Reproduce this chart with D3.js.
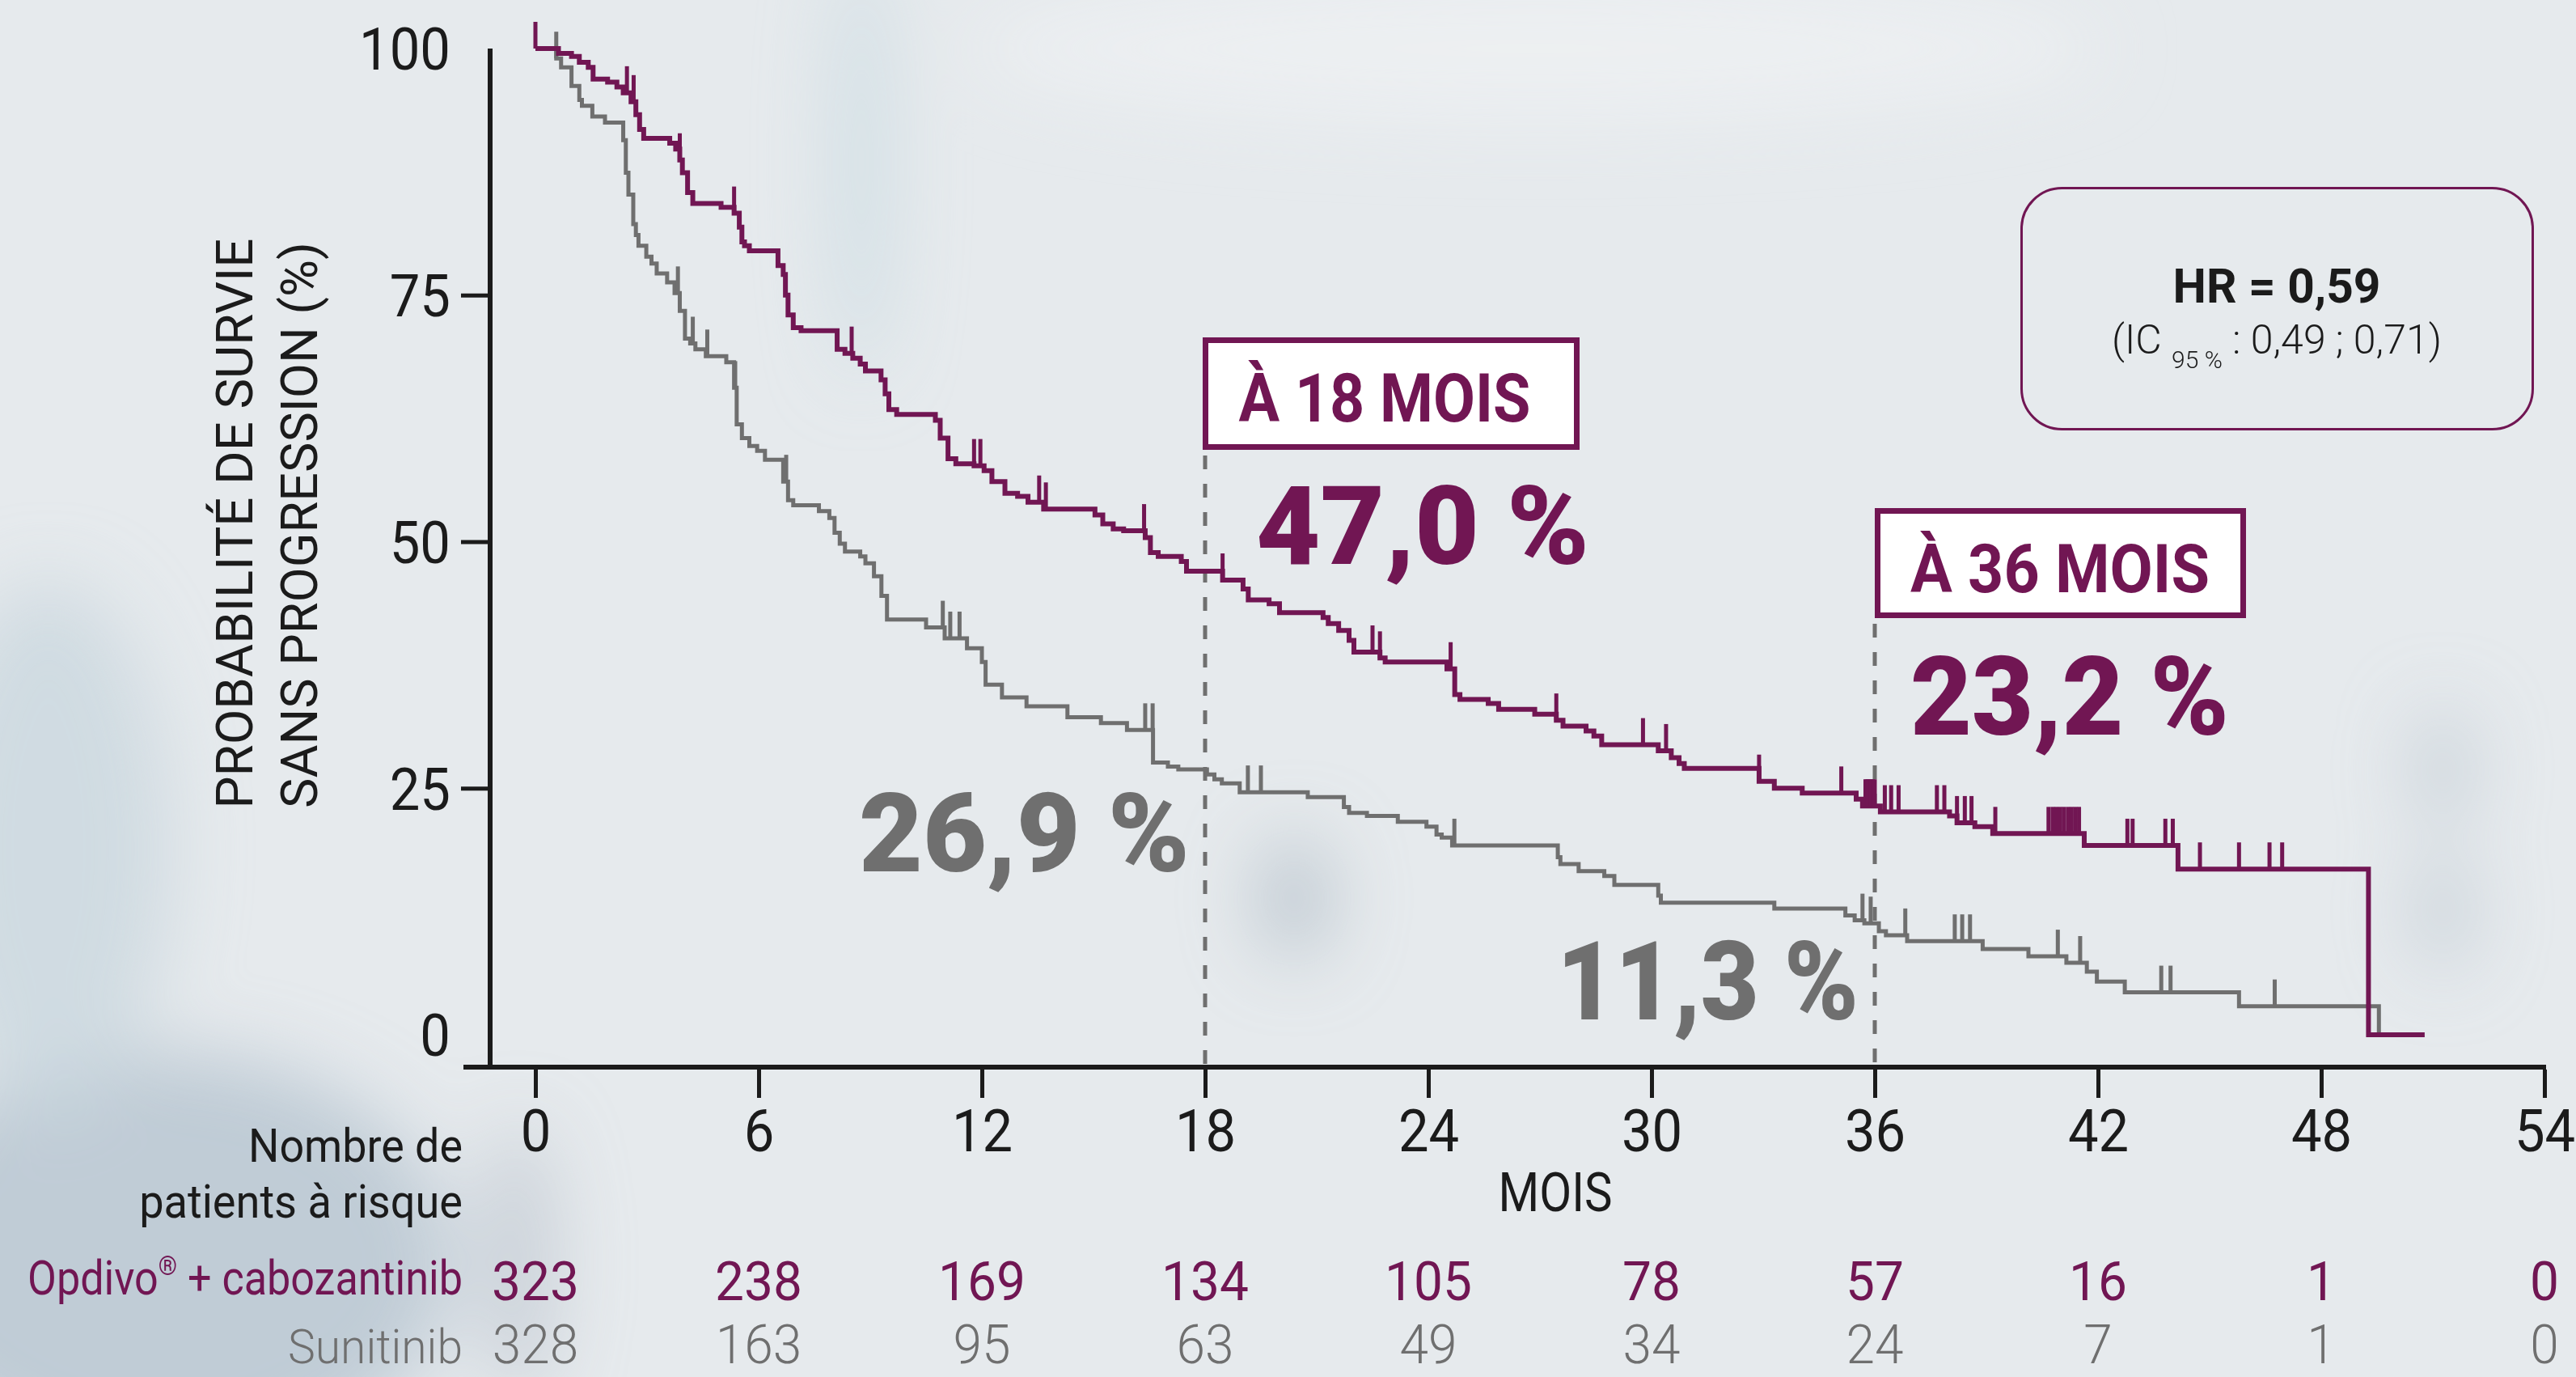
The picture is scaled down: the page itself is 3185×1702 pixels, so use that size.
<!DOCTYPE html>
<html>
<head>
<meta charset="utf-8">
<script src="https://cdn.jsdelivr.net/npm/d3@7"></script>
<style>
  html, body { margin: 0; padding: 0; background: #e6eaed; }
  svg { display: block; }
  text { font-family: Roboto, "Noto Sans", "DejaVu Sans", sans-serif; }
</style>
</head>
<body>
<svg id="chart" width="3185" height="1702"></svg>
<script>
// ---------------- data ----------------
// x axis ticks (months) and y axis ticks (%)
const months = [0, 6, 12, 18, 24, 30, 36, 42, 48, 54];
const yTicks = [0, 25, 50, 75, 100];

// Kaplan-Meier steps: [month, survival % from that month on]
const opdivoSteps = [
  [0, 100], [0.62, 99.5], [0.97, 99.2], [1.18, 98.6], [1.42, 98.1], [1.55, 96.9],
  [1.94, 96.6], [2.19, 96.1], [2.36, 95.5], [2.57, 94.6], [2.70, 93.3], [2.80, 91.8],
  [2.91, 90.9], [3.61, 90.4], [3.77, 89.8], [3.88, 88.7], [3.95, 87.4], [4.09, 85.4],
  [4.23, 84.3], [4.99, 83.9], [5.34, 83.3], [5.48, 81.9], [5.55, 80.4], [5.62, 80.0],
  [5.75, 79.5], [6.52, 78.0], [6.66, 77.1], [6.72, 75.0], [6.79, 73.0], [6.93, 71.7],
  [7.14, 71.4], [8.11, 69.5], [8.32, 69.1], [8.53, 68.6], [8.73, 68.0], [8.87, 67.3],
  [9.29, 66.4], [9.40, 65.0], [9.50, 63.4], [9.71, 62.9], [10.75, 62.3], [10.88, 60.5],
  [11.09, 58.4], [11.30, 57.9], [11.79, 57.7], [12.06, 57.2], [12.27, 56.1], [12.62, 54.9],
  [12.96, 54.6], [13.24, 54.0], [13.66, 53.3], [15.04, 52.7], [15.25, 51.8], [15.53, 51.3],
  [15.81, 51.1], [16.39, 50.4], [16.53, 48.9], [16.74, 48.5], [17.36, 48.0], [17.50, 47.0],
  [18.47, 46.1], [19.02, 45.2], [19.16, 44.1], [19.72, 43.7], [20.00, 42.8], [21.17, 42.3],
  [21.31, 41.7], [21.59, 41.0], [21.87, 40.0], [22.00, 38.8], [22.70, 38.2], [22.84, 37.8],
  [24.50, 37.1], [24.71, 34.5], [24.85, 34.0], [25.61, 33.6], [25.89, 33.0], [26.86, 32.5],
  [27.44, 31.9], [27.62, 31.3], [28.24, 30.8], [28.45, 30.3], [28.66, 29.4], [30.18, 28.8],
  [30.53, 28.1], [30.74, 27.5], [30.88, 27.0], [32.89, 25.7], [33.30, 25.0], [34.05, 24.5],
  [35.50, 23.9], [35.67, 23.2], [36.15, 22.6], [38.01, 22.2], [38.21, 21.5], [38.69, 21.1],
  [39.17, 20.4], [41.63, 19.2], [44.15, 16.8], [49.27, 0], [50.78, 0]
];
const sunitinibSteps = [
  [0, 100], [0.56, 99.0], [0.69, 98.1], [0.97, 96.2], [1.18, 94.8], [1.25, 94.2],
  [1.53, 93.1], [1.87, 92.5], [2.36, 90.7], [2.43, 87.4], [2.50, 85.2], [2.63, 82.2],
  [2.70, 81.1], [2.77, 80.0], [2.98, 78.9], [3.12, 78.2], [3.26, 77.2], [3.54, 76.3],
  [3.74, 75.2], [3.88, 73.4], [4.02, 70.6], [4.16, 70.1], [4.30, 69.5], [4.58, 68.8],
  [5.13, 68.2], [5.34, 65.6], [5.41, 61.9], [5.55, 60.5], [5.75, 59.7], [5.96, 59.2],
  [6.17, 58.3], [6.66, 56.1], [6.79, 54.2], [6.93, 53.7], [7.62, 53.1], [7.90, 52.4],
  [8.04, 50.9], [8.18, 49.8], [8.32, 49.0], [8.73, 48.5], [8.87, 47.8], [9.10, 46.5],
  [9.30, 44.5], [9.45, 42.1], [10.50, 41.3], [11.00, 40.2], [11.60, 39.2], [12.00, 37.8],
  [12.10, 35.5], [12.54, 34.2], [13.20, 33.3], [14.30, 32.2], [15.20, 31.6], [15.90, 30.9],
  [16.60, 27.6], [17.00, 27.2], [17.28, 26.9], [18.05, 26.4], [18.25, 25.9], [18.45, 25.5],
  [18.93, 24.6], [20.76, 24.1], [21.73, 23.1], [21.87, 22.5], [22.35, 22.2], [23.18, 21.6],
  [23.95, 21.1], [24.22, 20.3], [24.36, 20.0], [24.64, 19.2], [27.48, 18.0], [27.55, 17.3],
  [28.04, 16.6], [28.73, 16.1], [29.00, 15.2], [30.18, 14.1], [30.25, 13.4], [33.30, 12.8],
  [35.21, 12.1], [35.46, 11.6], [35.72, 11.3], [36.11, 10.5], [36.30, 10.1], [36.87, 9.5],
  [38.90, 8.7], [40.13, 7.95], [41.15, 7.3], [41.70, 6.4], [41.97, 5.4], [42.72, 4.3],
  [45.79, 2.9], [49.55, 0], [49.80, 0]
];

// censored observations (months)
const opdivoCensored = [
  0, 2.46, 2.64, 3.88, 5.34, 8.50, 11.79, 11.96, 13.54, 13.72, 16.36, 18.47, 22.50, 22.70,
  24.60, 27.44, 29.77, 30.39, 32.89, 35.10, 35.75, 35.80, 35.85, 35.90, 35.95, 36.00, 36.27,
  36.44, 36.64, 37.67, 37.87, 38.21, 38.42, 38.60, 39.24, 40.67, 40.78, 40.88, 40.98, 41.08,
  41.19, 41.29, 41.39, 41.49, 42.79, 42.93, 43.81, 44.01, 44.74, 45.79, 46.61, 46.95
];
const sunitinibCensored = [
  0.56, 3.83, 4.23, 4.62, 5.37, 6.74, 10.95, 11.15, 11.40, 16.39, 16.59, 19.15, 19.50,
  24.70, 35.67, 35.89, 36.82, 38.15, 38.35, 38.56, 40.92, 41.52, 43.70, 43.95, 46.75
];

// patients at risk at each x tick
const opdivoAtRisk = [323, 238, 169, 134, 105, 78, 57, 16, 1, 0];
const sunitinibAtRisk = [328, 163, 95, 63, 49, 34, 24, 7, 1, 0];

// landmark estimates (%)
const landmarkMonths = [18, 36];
const landmarkOpdivo = [47.0, 23.2];
const landmarkSunitinib = [26.9, 11.3];

// hazard ratio and 95 % CI
const hazardRatio = [0.59];
const hazardCI = [0.49, 0.71];

// ---------------- drawing ----------------
const W = 3185, H = 1702;
const MAGENTA = '#711653', GREY = '#6f6f6f', INK = '#1b1b1b';
const AXIS_X = 606, AXIS_Y = 1319;

const svg = d3.select('#chart');
const x = d3.scaleLinear().domain([0, 54]).range([662, 3146]);
const y = d3.scaleLinear().domain([0, 100]).range([1279, 60]);

const frNum = d3.formatLocale({ decimal: ',', thousands: '\u00a0', grouping: [3], currency: ['', ' €'] });
const pct1 = frNum.format('.1f');
const dec2 = frNum.format('.2f');

// text helper: draws at (x, y) then condenses horizontally (fixed factor or to a target width)
function addText(parent, o) {
  const t = parent.append('text')
    .attr('x', 0).attr('y', 0)
    .attr('text-anchor', o.anchor || 'start')
    .attr('font-size', o.size)
    .attr('font-weight', o.weight || 400)
    .attr('fill', o.fill || INK);
  if (Array.isArray(o.text)) {
    o.text.forEach(s => {
      const ts = t.append('tspan').text(s.t);
      if (s.size) ts.attr('font-size', s.size);
      if (s.dy) ts.attr('dy', s.dy);
    });
  } else {
    t.text(o.text);
  }
  let k = o.squeeze || 1;
  if (o.width) k = o.width / t.node().getComputedTextLength();
  t.attr('transform', `translate(${o.x},${o.y})${o.rotate ? ` rotate(${o.rotate})` : ''} scale(${k},1)`);
  return t;
}

// background: soft, out-of-focus backdrop
const defs = svg.append('defs');
defs.append('filter').attr('id', 'haze')
  .attr('x', '-100%').attr('y', '-100%').attr('width', '300%').attr('height', '300%')
  .append('feGaussianBlur').attr('stdDeviation', 45);
svg.append('rect').attr('width', W).attr('height', H).attr('fill', '#e6eaed');
const haze = svg.append('g').attr('filter', 'url(#haze)');
[
  [200, 1560, 360, 260, '#b8c7d1', 0.85],
  [60, 1050, 150, 330, '#cbd7de', 0.8],
  [640, 1560, 45, 170, '#bcc5ce', 0.7],
  [1065, 200, 32, 270, '#cddde3', 0.9],
  [1600, 1110, 45, 75, '#b4bfc9', 0.8],
  [3020, 950, 35, 75, '#c3cdd5', 0.8],
  [3020, 1125, 35, 75, '#c3cdd5', 0.8],
  [1900, 60, 700, 90, '#edf0f2', 0.8]
].forEach(([cx, cy, rx, ry, c, op]) => {
  haze.append('ellipse').attr('cx', cx).attr('cy', cy).attr('rx', rx).attr('ry', ry)
    .attr('fill', c).attr('opacity', op);
});

// axes
const gx = svg.append('g').attr('transform', `translate(0,${AXIS_Y})`)
  .call(d3.axisBottom(x).tickValues(months).tickSize(38).tickSizeOuter(0).tickFormat(d3.format('d')));
gx.select('.domain').remove();
gx.selectAll('.tick line').attr('stroke', INK).attr('stroke-width', 5).attr('y1', 3);
gx.selectAll('.tick text')
  .attr('y', 104).attr('dy', null)
  .attr('fill', INK).attr('font-size', 72).attr('font-weight', 400)
  .attr('font-family', 'Roboto, "Noto Sans", sans-serif')
  .attr('transform', 'scale(0.93,1)');

const gy = svg.append('g').attr('transform', `translate(${AXIS_X},0)`)
  .call(d3.axisLeft(y).tickValues(yTicks).tickSize(36).tickFormat(d3.format('d')));
gy.select('.domain').remove();
gy.selectAll('.tick line').attr('stroke', INK).attr('stroke-width', 5)
  .attr('display', d => (d === 0 || d === 100) ? 'none' : null);
gy.selectAll('.tick text')
  .attr('x', 0).attr('dy', '0.36em').attr('text-anchor', 'end')
  .attr('fill', INK).attr('font-size', 72).attr('font-weight', 400)
  .attr('font-family', 'Roboto, "Noto Sans", sans-serif')
  .attr('transform', 'translate(-49,0) scale(0.93,1)');

svg.append('line').attr('x1', AXIS_X).attr('x2', AXIS_X).attr('y1', y(100)).attr('y2', AXIS_Y + 3)
  .attr('stroke', INK).attr('stroke-width', 6);
svg.append('line').attr('x1', 573).attr('x2', x(54) + 2).attr('y1', AXIS_Y).attr('y2', AXIS_Y)
  .attr('stroke', INK).attr('stroke-width', 6);

// axis titles
addText(svg, { x: 312, y: 647, rotate: -90, anchor: 'middle', size: 63, weight: 400,
  text: 'PROBABILITÉ DE SURVIE', width: 705 });
addText(svg, { x: 392, y: 649, rotate: -90, anchor: 'middle', size: 63, weight: 400,
  text: 'SANS PROGRESSION (%)', width: 700 });
addText(svg, { x: 1923, y: 1497, anchor: 'middle', size: 66, weight: 400, text: 'MOIS', width: 141 });

// landmark guides and boxes
const boxes = [
  { x0: 1487, w: 466, y0: 417, h: 139, textX: 1712, textW: 361 },
  { x0: 2318, w: 459, y0: 628, h: 136, textX: 2547, textW: 370 }
];
landmarkMonths.forEach((m, i) => {
  const b = boxes[i];
  svg.append('line').attr('x1', x(m)).attr('x2', x(m))
    .attr('y1', b.y0 + b.h + 7).attr('y2', AXIS_Y - 3)
    .attr('stroke', GREY).attr('stroke-width', 5).attr('stroke-dasharray', '17 18');
  svg.append('rect').attr('x', b.x0 + 3.5).attr('y', b.y0 + 3.5)
    .attr('width', b.w - 7).attr('height', b.h - 7)
    .attr('fill', '#ffffff').attr('stroke', MAGENTA).attr('stroke-width', 7);
  addText(svg, { x: b.textX, y: b.y0 + 104, anchor: 'middle', size: 84, weight: 700,
    fill: MAGENTA, text: `À ${m} MOIS`, width: b.textW });
});

// survival curves
const line = d3.line().x(d => x(d[0])).y(d => y(d[1])).curve(d3.curveStepAfter);
const bisect = d3.bisector(d => d[0]).right;
const survivalAt = (steps, t) => steps[Math.max(0, bisect(steps, t) - 1)][1];

function drawArm(steps, censored, color, width) {
  svg.append('path').datum(steps).attr('d', line)
    .attr('fill', 'none').attr('stroke', color).attr('stroke-width', width)
    .attr('stroke-linejoin', 'miter');
  svg.append('g').selectAll('line').data(censored).join('line')
    .attr('x1', d => x(d)).attr('x2', d => x(d))
    .attr('y1', d => y(survivalAt(steps, d)))
    .attr('y2', d => y(survivalAt(steps, d)) - 33)
    .attr('stroke', color).attr('stroke-width', 5);
}
drawArm(sunitinibSteps, sunitinibCensored, GREY, 5);
drawArm(opdivoSteps, opdivoCensored, MAGENTA, 6);

// landmark values
const bigOpdivo = [
  { x: x(18) + 63, y: 697, anchor: 'start', w: 412 },
  { x: x(36) + 44, y: 908, anchor: 'start', w: 394 }
];
const bigSunitinib = [
  { x: x(18) - 19, y: 1077, anchor: 'end', w: 409 },
  { x: x(36) - 20, y: 1260, anchor: 'end', w: 373 }
];
landmarkOpdivo.forEach((v, i) => {
  const p = bigOpdivo[i];
  addText(svg, { x: p.x, y: p.y, anchor: p.anchor, size: 136, weight: 900, fill: MAGENTA,
    text: `${pct1(v)} %`, width: p.w });
});
landmarkSunitinib.forEach((v, i) => {
  const p = bigSunitinib[i];
  addText(svg, { x: p.x, y: p.y, anchor: p.anchor, size: 136, weight: 900, fill: GREY,
    text: `${pct1(v)} %`, width: p.w });
});

// hazard ratio box
svg.append('rect').attr('x', 2499.5).attr('y', 232.5).attr('width', 632).attr('height', 298)
  .attr('rx', 50).attr('ry', 50)
  .attr('fill', 'none').attr('stroke', MAGENTA).attr('stroke-width', 3);
addText(svg, { x: 2815, y: 374, anchor: 'middle', size: 59, weight: 700,
  text: `HR = ${dec2(hazardRatio[0])}`, width: 257 });
addText(svg, { x: 2815, y: 437, anchor: 'middle', size: 50, weight: 300, width: 408,
  text: [
    { t: '(IC ' },
    { t: '95 %', size: 30, dy: 18 },
    { t: ` : ${dec2(hazardCI[0])} ; ${dec2(hazardCI[1])})`, dy: -18 }
  ] });

// numbers at risk
addText(svg, { x: 572, y: 1436, anchor: 'end', size: 58, text: 'Nombre de', width: 265 });
addText(svg, { x: 572, y: 1505, anchor: 'end', size: 58, text: 'patients à risque', width: 400 });
addText(svg, { x: 572, y: 1600, anchor: 'end', size: 60, fill: MAGENTA, width: 538,
  text: [{ t: 'Opdivo' }, { t: '®', size: 34, dy: -24 }, { t: ' + cabozantinib', dy: 24 }] });
addText(svg, { x: 572, y: 1685, anchor: 'end', size: 60, fill: GREY, weight: 300,
  text: 'Sunitinib', width: 216 });

months.forEach((m, i) => {
  addText(svg, { x: x(m), y: 1607, anchor: 'middle', size: 66, weight: 400, fill: MAGENTA,
    text: String(opdivoAtRisk[i]), squeeze: 0.97 });
  addText(svg, { x: x(m), y: 1685, anchor: 'middle', size: 66, weight: 300, fill: GREY,
    text: String(sunitinibAtRisk[i]), squeeze: 0.97 });
});
</script>
</body>
</html>
